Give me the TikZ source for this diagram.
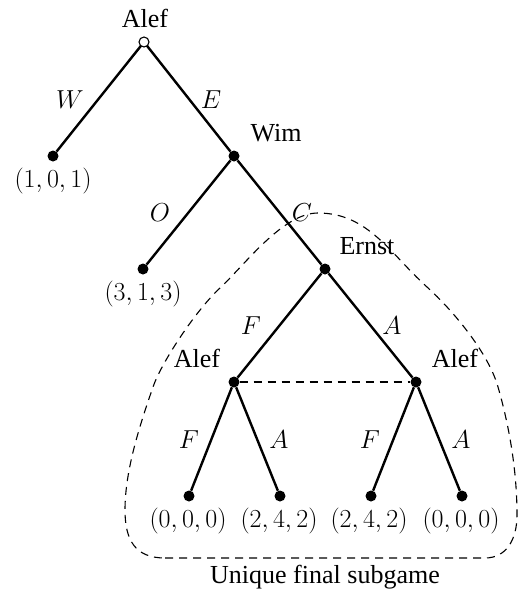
\RequirePackage{fix-cm}
\documentclass[tikz,border=0pt]{standalone}
\usepackage[no-math]{fontspec}
\setmainfont{Liberation Serif}
\begin{document}
\begin{tikzpicture}[x=1pt,y=-1pt,
  dot/.style={circle,fill,inner sep=0pt,minimum size=11pt},
  opendot/.style={circle,draw,fill=white,inner sep=0pt,minimum size=10pt,line width=1.1pt},
  edge/.style={line width=2.4pt},
  lbl/.style={anchor=base,inner sep=0pt,font=\fontsize{26}{31}\selectfont},
  info/.style={line width=1.1pt,dash pattern=on 8pt off 6pt}]
\useasboundingbox (0,0) rectangle (518,592);
% subgame outline
\draw[info] (165,558) -- (485,558)
  .. controls (506,558) and (517,540) .. (517,515)
  .. controls (517,470) and (509,425) .. (498,387)
  .. controls (488.5,353) and (453,310.5) .. (427,287)
  .. controls (390,253.5) and (368,213) .. (318,213)
  .. controls (283,213) and (245.6,264) .. (220,288)
  .. controls (194.5,311.8) and (161,363.5) .. (153,387)
  .. controls (140,424.6) and (125,470) .. (125,510)
  .. controls (125,540) and (135,558) .. cycle;
% nodes
\node[dot] (l1) at (53,156) {};
\node[dot] (w) at (234,156) {};
\node[dot] (l2) at (143,269) {};
\node[dot] (e) at (325,269) {};
\node[dot] (a1) at (234,382) {};
\node[dot] (a2) at (416,382) {};
\node[dot] (l3) at (189,496) {};
\node[dot] (l4) at (280,496) {};
\node[dot] (l5) at (371,496) {};
\node[dot] (l6) at (462,496) {};
% edges
\draw[edge] (w) -- (l2);
\draw[edge] (w) -- (e);
\draw[edge] (e) -- (a1);
\draw[edge] (e) -- (a2);
\draw[edge] (a1) -- (l3);
\draw[edge] (a1) -- (l4);
\draw[edge] (a2) -- (l5);
\draw[edge] (a2) -- (l6);
\coordinate (rc) at (144,42);
\draw[edge] (rc) -- (l1);
\draw[edge] (rc) -- (w);
\node[opendot] (r) at (rc) {};
\draw[info] (a1) -- (a2);
% player labels
\node[lbl] (tr) at (145,27) {Alef};
\node[lbl] (tw) at (276,141) {Wim};
\node[lbl] (te) at (367,254) {Ernst};
\node[lbl] (ta1) at (197,367) {Alef};
\node[lbl] (ta2) at (455,367) {Alef};
% action labels
\node[lbl] at (70,108) {$W$};
\node[lbl] at (211,108) {$E$};
\node[lbl] at (160,221) {$O$};
\node[lbl] at (302,221) {$C$};
\node[lbl] at (251,334) {$F$};
\node[lbl] at (392,334) {$A$};
\node[lbl] at (189,448) {$F$};
\node[lbl] at (279,448) {$A$};
\node[lbl] at (370,448) {$F$};
\node[lbl] at (461,448) {$A$};
% payoffs
\node[lbl] at (53,187) {$(1,0,1)$};
\node[lbl] at (143,300) {$(3,1,3)$};
\node[lbl] at (188,527) {$(0,0,0)$};
\node[lbl] at (279,527) {$(2,4,2)$};
\node[lbl] at (369,527) {$(2,4,2)$};
\node[lbl] at (461,527) {$(0,0,0)$};
% caption
\node[lbl] (cap) at (325,583) {Unique final subgame};
\end{tikzpicture}
\end{document}
